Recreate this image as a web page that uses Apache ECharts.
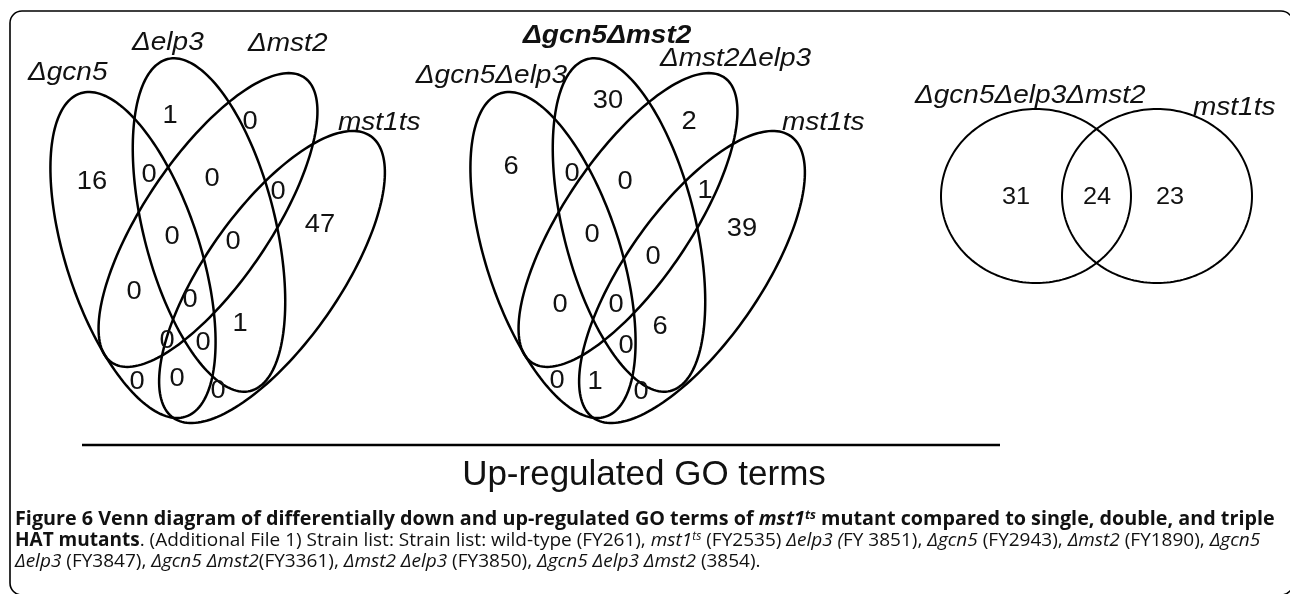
<!DOCTYPE html>
<html>
<head>
<meta charset="utf-8">
<script src="https://cdn.jsdelivr.net/npm/echarts@6/dist/echarts.min.js"></script>
<style>
  html, body { margin: 0; padding: 0; background: #fff; }
  #chart { width: 1290px; height: 594px; }
</style>
</head>
<body>
<div id="chart"></div>
<script>
// ---- data ----
// single HAT mutants vs mst1ts (4-set venn, region counts)
const singleSets = ['Δgcn5', 'Δelp3', 'Δmst2', 'mst1ts']
const singleCounts = [16, 1, 0, 47, 0, 0, 0, 0, 0, 0, 0, 1, 0, 0, 0, 0, 0]
// double HAT mutants vs mst1ts
const doubleSets = ['Δgcn5Δelp3', 'Δgcn5Δmst2', 'Δmst2Δelp3', 'mst1ts']
const doubleCounts = [6, 30, 2, 39, 0, 0, 1, 0, 0, 0, 0, 6, 0, 1, 0, 0]
// triple HAT mutant vs mst1ts
const tripleSets = ['Δgcn5Δelp3Δmst2', 'mst1ts']
const tripleCounts = [31, 24, 23]

// ---- layout (pixels) ----
// ellipse: [cx, cy, semi-major, semi-minor, tilt of major axis from vertical]
const quadShape = [
  [133, 255, 170, 67, -18],
  [209, 225, 171, 66, -14],
  [208, 220, 172, 63, 34],
  [272, 277, 172, 67, 35]
]
const doubleShift = 420
const pairShape = [
  [1036, 196, 87, 95, 0],
  [1157, 196, 87, 95, 0]
]
const singleCountPos = [
  [92, 182], [170, 116], [250, 122], [320, 225],
  [149, 175], [212, 179], [278, 192],
  [134, 292], [172, 237], [233, 242], [190, 300], [240, 324],
  [167, 341], [203, 343], [177, 379], [137, 382], [218, 391]
]
const doubleCountPos = [
  [511, 167], [608, 101], [689, 122], [742, 229],
  [572, 174], [625, 182], [705, 191],
  [592, 235], [653, 257], [560, 305], [616, 305], [660, 327],
  [626, 346], [595, 382], [557, 381], [641, 392]
]
const tripleCountPos = [[1016, 198], [1097, 198], [1170, 198]]
// set label: [x, y(middle), align, bold]
const singleLabelPos = [[28, 73, 'left'], [132, 43, 'left'], [248, 44, 'left'], [338, 123, 'left']]
const doubleLabelPos = [[567, 76, 'right'], [523, 36, 'left', true], [660, 59, 'left'], [782, 123, 'left']]
const tripleLabelPos = [[915, 96, 'left'], [1193, 108, 'left']]

const ellipses = quadShape
  .concat(quadShape.map(e => [e[0] + doubleShift, e[1], e[2], e[3], e[4]]))
  .concat(pairShape)

const countItems = []
singleCounts.forEach((c, i) => countItems.push([singleCountPos[i][0], singleCountPos[i][1], c, 26]))
doubleCounts.forEach((c, i) => countItems.push([doubleCountPos[i][0], doubleCountPos[i][1], c, 26]))
tripleCounts.forEach((c, i) => countItems.push([tripleCountPos[i][0], tripleCountPos[i][1], c, 23]))

const labelNames = singleSets.concat(doubleSets, tripleSets)
const labelPos = singleLabelPos.concat(doubleLabelPos, tripleLabelPos)

const VENN_FONT = '"Liberation Sans", Arial, sans-serif'
const CAP_FONT = '"Open Sans", "Noto Sans", sans-serif'

function capStyle(weight, style, size) {
  return {
    fontFamily: CAP_FONT,
    fontSize: size || 19,
    fontWeight: weight,
    fontStyle: style,
    fill: '#111',
    lineHeight: 21,
    verticalAlign: size ? 'top' : 'middle'
  }
}
const capRich = {
  b: capStyle('bold', 'normal'),
  bi: capStyle('bold', 'italic'),
  bsup: capStyle('bold', 'italic', 12),
  r: capStyle('normal', 'normal'),
  i: capStyle('normal', 'italic'),
  isup: capStyle('normal', 'italic', 12)
}
const captionLines = [
  '{b|Figure 6 Venn diagram of differentially down and up-regulated GO terms of }{bi|mst1}{bsup|ts}{b| mutant compared to single, double, and triple}',
  '{b|HAT mutants}{r|. (Additional File 1) Strain list: Strain list: wild-type (FY261), }{i|mst1}{isup|ts}{r| (FY2535) }{i|Δelp3 (}{r|FY 3851), }{i|Δgcn5}{r| (FY2943), }{i|Δmst2}{r| (FY1890), }{i|Δgcn5}',
  '{i|Δelp3}{r| (FY3847), }{i|Δgcn5 Δmst2}{r|(FY3361), }{i|Δmst2 Δelp3}{r| (FY3850), }{i|Δgcn5 Δelp3 Δmst2}{r| (3854).}'
]
const captionY = [520, 541, 562]
const captionStretch = [1.04, 1, 1]

const chart = echarts.init(document.getElementById('chart'))

const option = {
  animation: false,
  backgroundColor: '#fff',
  grid: { left: 0, right: 0, top: 0, bottom: 0 },
  xAxis: { type: 'value', min: 0, max: 1290, show: false },
  yAxis: { type: 'value', min: 0, max: 594, inverse: true, show: false },
  graphic: [
    {
      // figure frame, right edge just off the page
      type: 'rect',
      shape: { x: 10, y: 11, width: 1283, height: 584, r: 12 },
      style: { fill: 'none', stroke: '#000', lineWidth: 1.6 }
    },
    {
      type: 'line',
      shape: { x1: 82, y1: 445, x2: 1000, y2: 445 },
      style: { stroke: '#000', lineWidth: 2.6 }
    },
    {
      type: 'text',
      x: 644,
      y: 475,
      style: {
        text: 'Up-regulated GO terms',
        fontFamily: VENN_FONT,
        fontSize: 35,
        fill: '#111',
        align: 'center',
        verticalAlign: 'middle'
      }
    }
  ].concat(captionLines.map((t, i) => ({
    type: 'text',
    x: 15,
    y: captionY[i],
    scaleX: captionStretch[i],
    style: { text: t, rich: capRich, align: 'left', verticalAlign: 'middle' }
  }))),
  series: [
    {
      // venn outlines
      type: 'custom',
      coordinateSystem: 'cartesian2d',
      encode: { x: 0, y: 1 },
      data: ellipses,
      renderItem: function (params, api) {
        const cx = api.value(0)
        const cy = api.value(1)
        const a = api.value(2)
        const b = api.value(3)
        const t = api.value(4) * Math.PI / 180
        const pts = []
        for (let k = 0; k < 180; k++) {
          const s = k / 180 * Math.PI * 2
          const u = a * Math.cos(s)
          const v = b * Math.sin(s)
          pts.push(api.coord([
            cx + u * Math.sin(t) + v * Math.cos(t),
            cy - u * Math.cos(t) + v * Math.sin(t)
          ]))
        }
        const thin = params.dataIndex >= 8
        return {
          type: 'polygon',
          shape: { points: pts },
          style: { fill: 'none', stroke: '#000', lineWidth: thin ? 2 : 2.5 }
        }
      }
    },
    {
      // region counts
      type: 'custom',
      coordinateSystem: 'cartesian2d',
      encode: { x: 0, y: 1 },
      data: countItems,
      renderItem: function (params, api) {
        const p = api.coord([api.value(0), api.value(1)])
        const size = api.value(3)
        return {
          type: 'text',
          x: p[0],
          y: p[1],
          scaleX: size === 23 ? 1.1 : 1.05,
          style: {
            text: String(api.value(2)),
            fontFamily: VENN_FONT,
            fontSize: size,
            fill: '#111',
            align: 'center',
            verticalAlign: 'middle'
          }
        }
      }
    },
    {
      // set names
      type: 'custom',
      coordinateSystem: 'cartesian2d',
      encode: { x: 0, y: 1 },
      data: labelPos.map(p => [p[0], p[1]]),
      renderItem: function (params, api) {
        const i = params.dataIndex
        const p = api.coord([api.value(0), api.value(1)])
        return {
          type: 'text',
          x: p[0],
          y: p[1],
          scaleX: 1.12,
          style: {
            text: labelNames[i],
            fontFamily: VENN_FONT,
            fontSize: 25,
            fontStyle: 'italic',
            fontWeight: labelPos[i][3] ? 'bold' : 'normal',
            fill: '#111',
            align: labelPos[i][2],
            verticalAlign: 'middle'
          }
        }
      }
    }
  ]
}

chart.setOption(option)
</script>
</body>
</html>
